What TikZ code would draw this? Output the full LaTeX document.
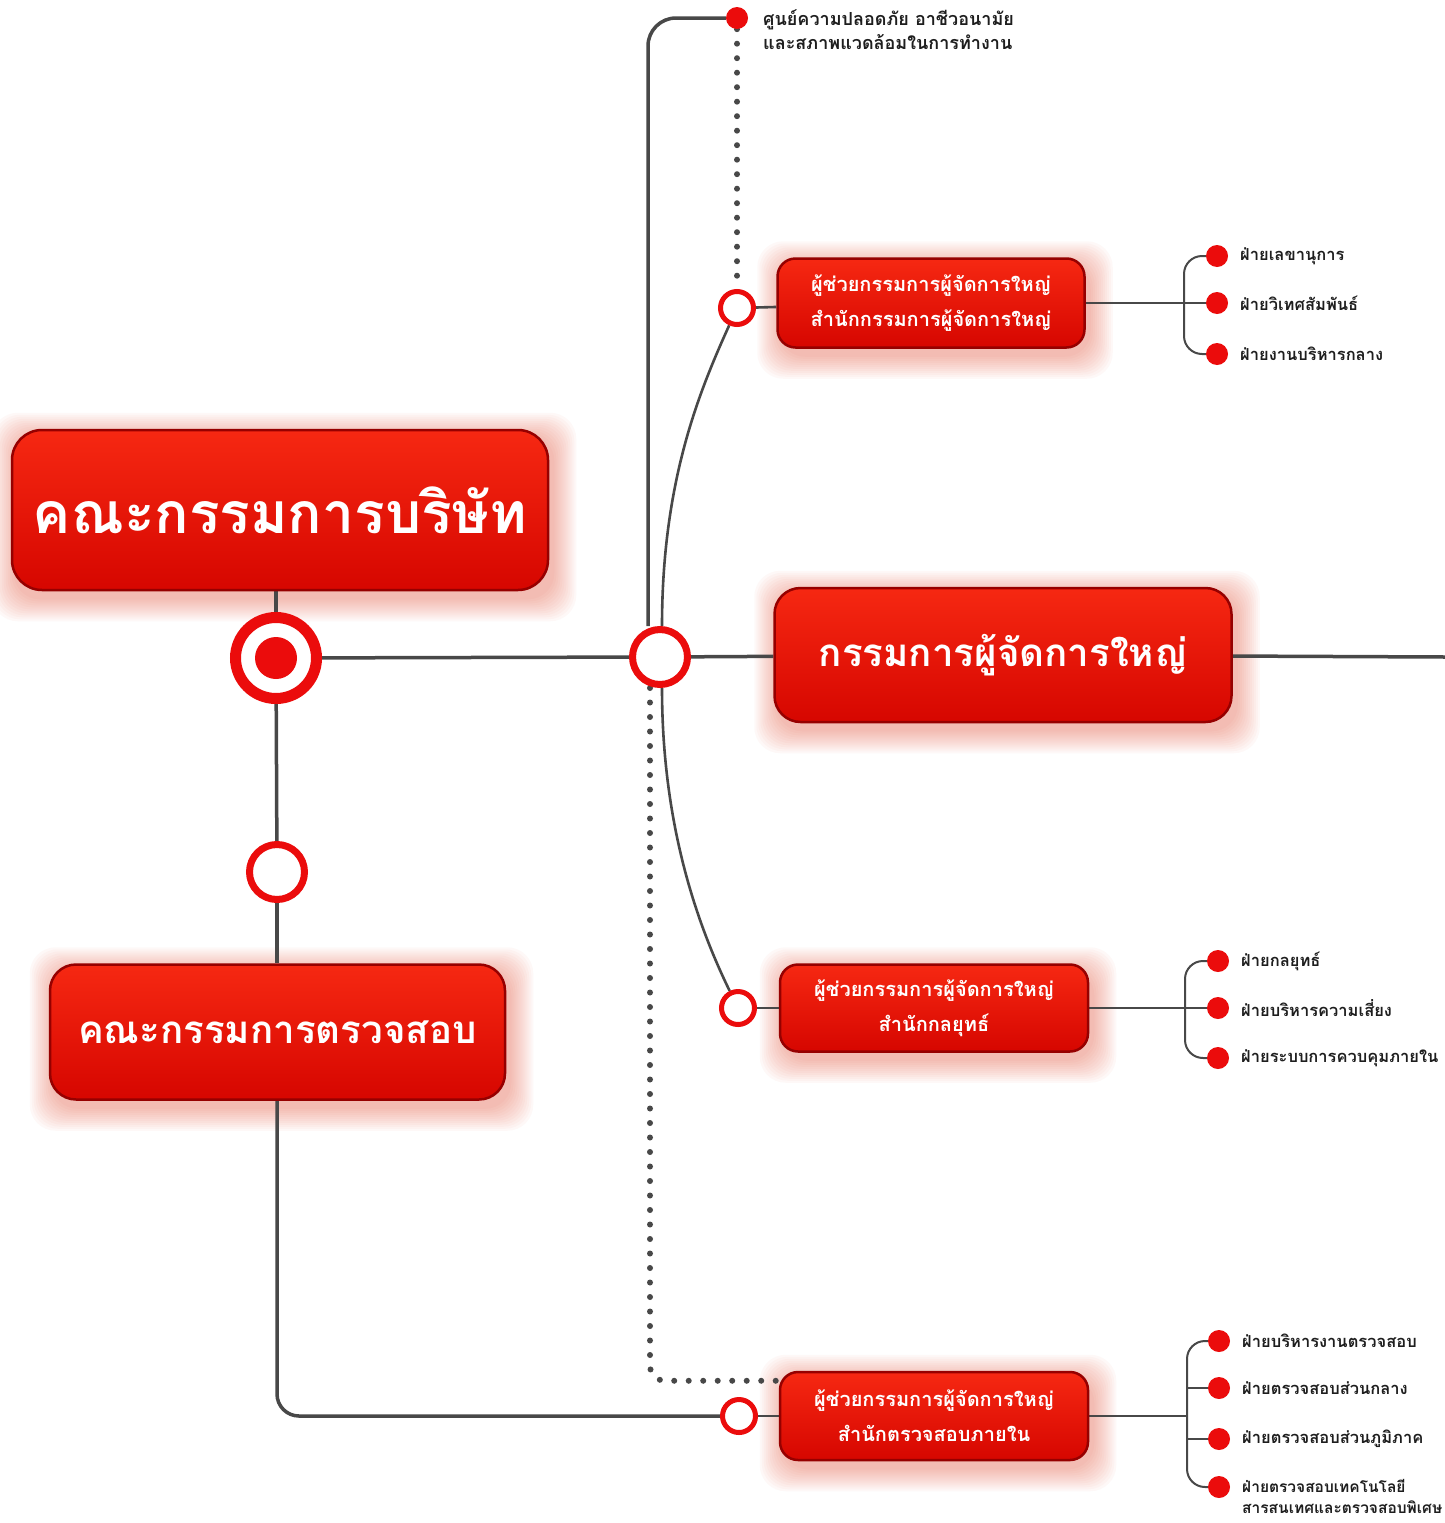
\documentclass[tikz,border=0pt]{standalone}
\usepackage{fontspec}
\newfontfamily\thai[Script=Thai]{Loma}
\usetikzlibrary{calc}
\definecolor{boxtop}{RGB}{246,40,18}
\definecolor{boxbot}{RGB}{214,6,0}
\definecolor{boxedge}{RGB}{150,0,0}
\definecolor{glowcol}{RGB}{232,60,30}
\definecolor{linegray}{RGB}{72,72,72}
\definecolor{ringred}{RGB}{235,12,12}
\definecolor{labtext}{RGB}{30,30,30}
\pgfdeclarelayer{bglayer}
\pgfdeclarelayer{glowlayer}
\pgfdeclarelayer{linelayer}
\pgfsetlayers{bglayer,glowlayer,linelayer,main}
\tikzset{
  redbox/.style={rounded corners=18pt, top color=boxtop, bottom color=boxbot, draw=boxedge,
    line width=2.5pt, text=white, align=center, inner sep=0pt},
  ring/.style={circle, draw=ringred, fill=white, inner sep=0pt},
  sring/.style={ring, line width=5pt, minimum size=33pt},
  rdot/.style={circle, fill=ringred, minimum size=22pt, inner sep=0pt},
  lab/.style={anchor=west, inner sep=0pt, text=labtext, font=\thai\bfseries\fontsize{16.5}{18}\selectfont},
  mainline/.style={draw=linegray, line width=3.5pt},
  thinline/.style={draw=linegray, line width=2.6pt},
  brline/.style={draw=linegray, line width=2pt},
  dotline/.style={draw=linegray, line width=6pt, line cap=round, dash pattern=on 0pt off 14.5pt},
  bigtext/.style={font=\thai\bfseries\fontsize{57}{62}\selectfont},
  midtext/.style={font=\thai\bfseries\fontsize{38.5}{44}\selectfont},
  smalltext/.style={font=\thai\bfseries\fontsize{20}{35}\selectfont},
}
\newcommand\boxglow[1]{%
  \begin{pgfonlayer}{glowlayer}
  \foreach \d in {1,3,...,23}{%
    \fill[glowcol,opacity=0.032,rounded corners=26pt]
      ($(#1.south west)+(-\d+4,\d+7)$) rectangle ($(#1.north east)+(\d+4,-\d+7)$);
  }
  \end{pgfonlayer}}
\begin{document}
\begin{tikzpicture}[x=1pt,y=-1pt]
\useasboundingbox (0,0) rectangle (1445,1523);
\begin{pgfonlayer}{bglayer}
\fill[white] (0,0) rectangle (1445,1523);
\end{pgfonlayer}

% main boxes
\node[redbox, bigtext, rounded corners=30pt, minimum width=536pt, minimum height=160pt] (board) at (280,510) {คณะกรรมการบริษัท};
\node[redbox, midtext, rounded corners=26pt, minimum width=455pt, minimum height=135pt] (audit) at (277.5,1032) {คณะกรรมการตรวจสอบ};
\node[redbox, midtext, rounded corners=26pt, minimum width=457pt, minimum height=134pt] (ceo) at (1003,655) {กรรมการผู้จัดการใหญ่};
\node[redbox, smalltext, minimum width=307pt, minimum height=89pt] (box1) at (931,303) {ผู้ช่วยกรรมการผู้จัดการใหญ่\\สำนักกรรมการผู้จัดการใหญ่};
\node[redbox, smalltext, minimum width=308pt, minimum height=87pt] (box2) at (934,1008) {ผู้ช่วยกรรมการผู้จัดการใหญ่\\สำนักกลยุทธ์};
\node[redbox, smalltext, minimum width=308pt, minimum height=88pt] (box3) at (934,1416) {ผู้ช่วยกรรมการผู้จัดการใหญ่\\สำนักตรวจสอบภายใน};
\boxglow{board}\boxglow{audit}\boxglow{ceo}\boxglow{box1}\boxglow{box2}\boxglow{box3}

% rings
\node[ring, line width=11pt, minimum size=81pt] (bring) at (276,658) {};
\node[circle, fill=ringred, minimum size=42pt, inner sep=0pt] (bdot) at (276,658) {};
\node[ring, line width=7pt, minimum size=55pt] (aring) at (277,872) {};
\node[ring, line width=7pt, minimum size=55pt] (hub) at (660,657) {};
\node[sring] (c1) at (737,308) {};
\node[sring] (c2) at (738,1008) {};
\node[sring] (c3) at (739,1416) {};
\coordinate (ceoend) at (1445,657);

% top unit
\node[rdot] (topdot) at (737,18) {};
\node[lab, font=\thai\bfseries\fontsize{18}{24}\selectfont, align=left] (toplab) at (763,30) {ศูนย์ความปลอดภัย อาชีวอนามัย\\และสภาพแวดล้อมในการทำงาน};

% departments of box1
\node[rdot] (d11) at (1217,256) {};
\node[rdot] (d12) at (1217,303) {};
\node[rdot] (d13) at (1217,354) {};
\node[lab] at (1240,256) {ฝ่ายเลขานุการ};
\node[lab] at (1240,303) {ฝ่ายวิเทศสัมพันธ์};
\node[lab] at (1240,354) {ฝ่ายงานบริหารกลาง};
\coordinate (b1) at (1184,303);

% departments of box2
\node[rdot] (d21) at (1218,961) {};
\node[rdot] (d22) at (1218,1008) {};
\node[rdot] (d23) at (1218,1058) {};
\node[lab] at (1241,961) {ฝ่ายกลยุทธ์};
\node[lab] at (1241,1008) {ฝ่ายบริหารความเสี่ยง};
\node[lab] at (1241,1058) {ฝ่ายระบบการควบคุมภายใน};
\coordinate (b2) at (1185,1008);

% departments of box3
\node[rdot] (d31) at (1219,1341) {};
\node[rdot] (d32) at (1219,1388) {};
\node[rdot] (d33) at (1219,1439) {};
\node[rdot] (d34) at (1219,1487) {};
\node[lab] at (1242,1341) {ฝ่ายบริหารงานตรวจสอบ};
\node[lab] at (1242,1388) {ฝ่ายตรวจสอบส่วนกลาง};
\node[lab] at (1242,1439) {ฝ่ายตรวจสอบส่วนภูมิภาค};
\node[lab, align=left, font=\thai\bfseries\fontsize{15.5}{21}\selectfont] at (1242,1496) {ฝ่ายตรวจสอบเทคโนโลยี\\สารสนเทศและตรวจสอบพิเศษ};
\coordinate (b3) at (1187,1416);
\coordinate (b3a) at (1187,1388);
\coordinate (b3b) at (1187,1439);

% connectors
\begin{pgfonlayer}{linelayer}
\draw[mainline] (bring) -- (bring |- board.south);
\draw[mainline] (bring) -- (hub);
\draw[mainline] (bring) -- (aring);
\draw[mainline] (aring) -- (aring |- audit.north);
\draw[mainline, rounded corners=22pt] (aring |- audit.south) |- (c3);
\draw[mainline] (hub) -- (ceo);
\draw[mainline] (ceo) -- (ceoend);
\draw[mainline, rounded corners=28pt] ([xshift=-12pt]hub.north) |- (topdot);
\draw[dotline] (topdot) -- (c1);
\draw[thinline] ([xshift=2pt]hub.north) .. controls (662,480) and (700,390) .. (c1);
\draw[thinline] ([xshift=2pt]hub.south) .. controls (662,830) and (700,930) .. (c2);
\draw[dotline, rounded corners=15pt] ([xshift=-10pt]hub.south) |- ([yshift=-10pt]box3.north west);
\draw[thinline] (c1) -- (box1);
\draw[thinline] (c2) -- (box2);
\draw[thinline] (c3) -- (box3);
\draw[brline] (box1) -- (d12);
\draw[brline, rounded corners=18pt] (d11) -| (b1) |- (d13);
\draw[brline] (box2) -- (d22);
\draw[brline, rounded corners=18pt] (d21) -| (b2) |- (d23);
\draw[brline] (box3) -- (b3);
\draw[brline, rounded corners=18pt] (d31) -| (b3) |- (d34);
\draw[brline] (b3a) -- (d32);
\draw[brline] (b3b) -- (d33);
\end{pgfonlayer}
\end{tikzpicture}
\end{document}
